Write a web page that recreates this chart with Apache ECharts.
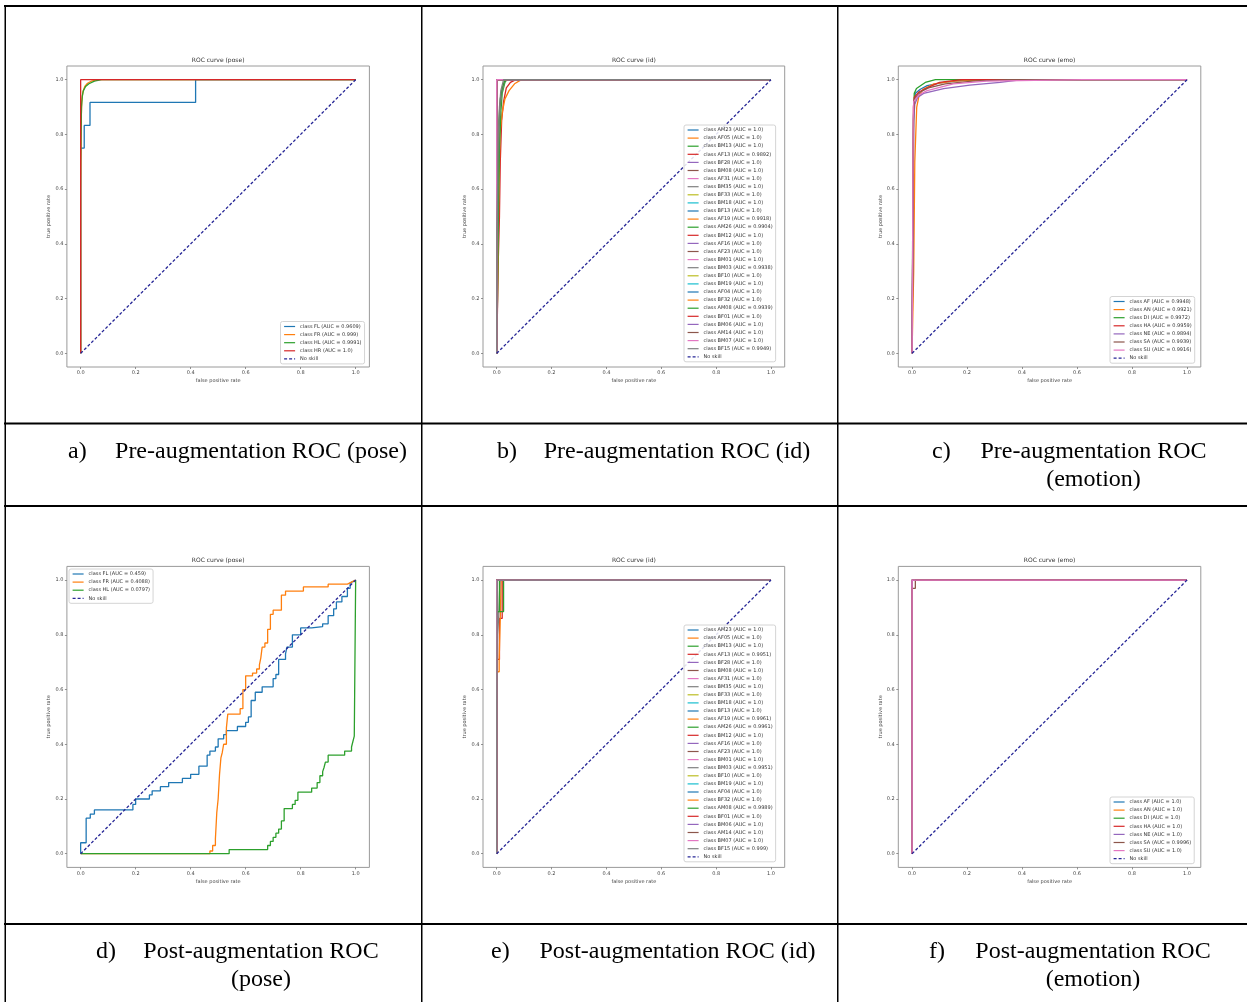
<!DOCTYPE html>
<html><head><meta charset="utf-8">
<script src="https://cdn.jsdelivr.net/npm/echarts@6/dist/echarts.min.js"></script>
<style>html,body{margin:0;padding:0;background:#fff}#c{width:1247px;height:1002px}</style>
</head><body><div id="c"></div>
<script>
// ---------- data ----------
const TICK_VALUES = [0, 0.2, 0.4, 0.6, 0.8, 1.0];
const TICK_LABELS = ['0.0', '0.2', '0.4', '0.6', '0.8', '1.0'];
const PANEL_TITLES = ['ROC curve (pose)', 'ROC curve (id)', 'ROC curve (emo)', 'ROC curve (pose)', 'ROC curve (id)', 'ROC curve (emo)'];
const X_NAME = 'false positive rate';
const Y_NAME = 'true positive rate';
const NO_SKILL_NAME = 'No skill';
const CAPTION_LABELS = ['a)', 'b)', 'c)', 'd)', 'e)', 'f)'];
const CAPTION_LINES = [
  ['Pre-augmentation ROC (pose)'],
  ['Pre-augmentation ROC (id)'],
  ['Pre-augmentation ROC', '(emotion)'],
  ['Post-augmentation ROC', '(pose)'],
  ['Post-augmentation ROC (id)'],
  ['Post-augmentation ROC', '(emotion)']
];

const NO_SKILL = [[0, 0], [1, 1]];
const PERFECT = [[0, 0], [0, 1], [1, 1]];

// (a) pre-augmentation pose
const POSE_PRE_CLASSES = ['FL', 'FR', 'HL', 'HR'];
const POSE_PRE_AUC = ['0.9609', '0.999', '0.9991', '1.0'];
const POSE_PRE_FL = [[0,0],[0,0.75],[0.013,0.75],[0.013,0.833],[0.034,0.833],[0.034,0.917],[0.418,0.917],[0.418,1],[1,1]];
const POSE_PRE_FR = [[0,0],[0,0.6],[0.002,0.85],[0.004,0.92],[0.008,0.955],[0.015,0.975],[0.025,0.987],[0.04,0.995],[0.06,1],[1,1]];
const POSE_PRE_HL = [[0,0],[0,0.7],[0.003,0.9],[0.006,0.94],[0.01,0.96],[0.018,0.975],[0.03,0.985],[0.05,0.995],[0.076,1],[1,1]];
const POSE_PRE_HR = PERFECT;

// (b)/(e) identity
const ID_CLASSES = ['AM23','AF05','BM13','AF13','BF28','BM08','AF31','BM35','BF33','BM18','BF13','AF19','AM26','BM12','AF16','AF23','BM01','BM03','BF10','BM19','AF04','BF32','AM08','BF01','BM06','AM14','BM07','BF15'];
const ID_PRE_AUC  = ['1.0','1.0','1.0','0.9892','1.0','1.0','1.0','1.0','1.0','1.0','1.0','0.9918','0.9904','1.0','1.0','1.0','1.0','0.9938','1.0','1.0','1.0','1.0','0.9939','1.0','1.0','1.0','1.0','0.9949'];
const ID_POST_AUC = ['1.0','1.0','1.0','0.9951','1.0','1.0','1.0','1.0','1.0','1.0','1.0','0.9961','0.9961','1.0','1.0','1.0','1.0','0.9951','1.0','1.0','1.0','1.0','0.9989','1.0','1.0','1.0','1.0','0.999'];
const ID_PRE_AF13 = [[0,0],[0.006,0.35],[0.01,0.5],[0.013,0.7],[0.018,0.85],[0.025,0.92],[0.035,0.97],[0.05,0.99],[0.07,1],[1,1]];
const ID_PRE_AF19 = [[0,0],[0.004,0.3],[0.008,0.6],[0.012,0.8],[0.02,0.88],[0.03,0.93],[0.045,0.96],[0.065,0.985],[0.09,1],[1,1]];
const ID_PRE_AM26 = [[0,0],[0.003,0.2],[0.006,0.5],[0.01,0.75],[0.015,0.88],[0.02,0.95],[0.03,0.99],[0.037,1],[1,1]];
const ID_PRE_BM03 = [[0,0],[0.002,0.3],[0.005,0.6],[0.008,0.8],[0.012,0.9],[0.018,0.95],[0.03,1],[1,1]];
const ID_PRE_AM08 = [[0,0],[0.002,0.3],[0.004,0.6],[0.008,0.85],[0.013,0.93],[0.02,0.97],[0.03,1],[1,1]];
const ID_PRE_BF15 = [[0,0],[0,0.45],[0.003,0.6],[0.006,0.8],[0.01,0.9],[0.015,0.96],[0.025,1],[1,1]];
const ID_POST_AF13 = [[0,0],[0,0.71],[0.01,0.71],[0.01,0.86],[0.02,0.86],[0.02,1],[1,1]];
const ID_POST_AF19 = [[0,0],[0,0.665],[0.009,0.665],[0.009,0.71],[0.013,0.71],[0.013,0.86],[0.016,0.86],[0.016,1],[1,1]];
const ID_POST_AM26 = [[0,0],[0,0.86],[0.005,0.86],[0.005,0.885],[0.025,0.885],[0.025,1],[1,1]];
const ID_POST_BM03 = [[0,0],[0,0.28],[0.003,0.28],[0.003,0.8],[0.007,0.8],[0.007,0.86],[0.012,0.86],[0.012,1],[1,1]];
const ID_POST_AM08 = [[0,0],[0,0.885],[0.01,0.885],[0.01,1],[1,1]];
const ID_POST_BF15 = [[0,0],[0,0.55],[0.002,0.55],[0.002,1],[1,1]];

// (c)/(f) emotion
const EMO_CLASSES = ['AF', 'AN', 'DI', 'HA', 'NE', 'SA', 'SU'];
const EMO_PRE_AUC = ['0.9948', '0.9921', '0.9972', '0.9959', '0.9894', '0.9939', '0.9916'];
const EMO_POST_AUC = ['1.0', '1.0', '1.0', '1.0', '1.0', '0.9996', '1.0'];
const EMO_PRE_AF = [[0,0],[0.002,0.3],[0.004,0.75],[0.006,0.9],[0.012,0.95],[0.03,0.965],[0.055,0.978],[0.115,0.99],[0.21,1],[1,1]];
const EMO_PRE_AN = [[0,0],[0.006,0.3],[0.01,0.7],[0.017,0.9],[0.025,0.94],[0.04,0.965],[0.08,0.985],[0.15,0.995],[0.3,1],[1,1]];
const EMO_PRE_DI = [[0,0],[0.002,0.4],[0.005,0.85],[0.008,0.95],[0.016,0.968],[0.048,0.99],[0.085,1],[1,1]];
const EMO_PRE_HA = [[0,0],[0.003,0.5],[0.005,0.9],[0.008,0.935],[0.025,0.955],[0.055,0.97],[0.1,0.99],[0.18,1],[1,1]];
const EMO_PRE_NE = [[0,0],[0.003,0.45],[0.006,0.85],[0.01,0.91],[0.02,0.935],[0.042,0.95],[0.115,0.967],[0.21,0.98],[0.32,0.99],[0.4,1],[1,1]];
const EMO_PRE_SA = [[0,0],[0.004,0.5],[0.006,0.88],[0.01,0.93],[0.03,0.955],[0.06,0.97],[0.12,0.985],[0.22,0.995],[0.35,1],[1,1]];
const EMO_PRE_SU = [[0,0],[0.002,0.35],[0.004,0.85],[0.006,0.92],[0.025,0.945],[0.055,0.96],[0.15,0.985],[0.27,0.995],[0.62,1],[1,1]];
const EMO_POST_SA = [[0,0],[0,0.97],[0.012,0.97],[0.012,1],[1,1]];

// (d) post-augmentation pose
const POSE_POST_CLASSES = ['FL', 'FR', 'HL'];
const POSE_POST_AUC = ['0.459', '0.4088', '0.0797'];
const POSE_POST_FL = [[0,0],[0,0.04],[0.02,0.04],[0.02,0.13],[0.035,0.13],[0.035,0.145],[0.05,0.145],[0.05,0.16],[0.19,0.16],[0.19,0.18],[0.2,0.18],[0.2,0.2],[0.25,0.2],[0.25,0.215],[0.26,0.215],[0.26,0.23],[0.29,0.23],[0.29,0.245],[0.32,0.245],[0.32,0.26],[0.37,0.26],[0.37,0.275],[0.4,0.275],[0.4,0.29],[0.43,0.29],[0.43,0.32],[0.46,0.32],[0.46,0.36],[0.47,0.36],[0.47,0.375],[0.49,0.375],[0.49,0.39],[0.5,0.39],[0.5,0.42],[0.52,0.42],[0.52,0.435],[0.53,0.435],[0.53,0.45],[0.57,0.45],[0.57,0.465],[0.6,0.465],[0.6,0.48],[0.61,0.48],[0.61,0.5],[0.62,0.5],[0.62,0.56],[0.635,0.56],[0.635,0.59],[0.66,0.59],[0.66,0.61],[0.7,0.61],[0.7,0.64],[0.71,0.64],[0.71,0.655],[0.72,0.655],[0.72,0.71],[0.745,0.71],[0.745,0.73],[0.75,0.73],[0.75,0.755],[0.77,0.755],[0.77,0.8],[0.8,0.8],[0.8,0.825],[0.84,0.825],[0.84,0.83],[0.88,0.83],[0.88,0.84],[0.9,0.84],[0.9,0.87],[0.92,0.87],[0.92,0.895],[0.93,0.895],[0.93,0.92],[0.95,0.92],[0.95,0.94],[0.97,0.94],[0.97,0.97],[0.98,0.97],[0.98,0.99],[1,1]];
const POSE_POST_FR = [[0,0],[0.47,0],[0.47,0.01],[0.48,0.01],[0.48,0.03],[0.49,0.03],[0.49,0.055],[0.495,0.055],[0.495,0.15],[0.5,0.15],[0.5,0.2],[0.505,0.2],[0.505,0.29],[0.51,0.29],[0.51,0.35],[0.515,0.35],[0.515,0.37],[0.52,0.37],[0.52,0.4],[0.53,0.4],[0.53,0.46],[0.535,0.46],[0.535,0.51],[0.58,0.51],[0.58,0.53],[0.59,0.53],[0.59,0.6],[0.6,0.6],[0.6,0.65],[0.625,0.65],[0.625,0.66],[0.64,0.66],[0.64,0.675],[0.65,0.675],[0.65,0.69],[0.655,0.69],[0.655,0.715],[0.66,0.715],[0.66,0.755],[0.67,0.755],[0.67,0.77],[0.68,0.77],[0.68,0.82],[0.69,0.82],[0.69,0.875],[0.7,0.875],[0.7,0.89],[0.73,0.89],[0.73,0.945],[0.745,0.945],[0.745,0.96],[0.81,0.96],[0.81,0.975],[0.9,0.975],[0.9,0.985],[0.97,0.985],[0.97,0.99],[1,1]];
const POSE_POST_HL = [[0,0],[0.54,0],[0.54,0.015],[0.68,0.015],[0.68,0.03],[0.69,0.03],[0.69,0.045],[0.7,0.045],[0.7,0.06],[0.71,0.06],[0.71,0.075],[0.72,0.075],[0.72,0.09],[0.73,0.09],[0.73,0.12],[0.74,0.12],[0.74,0.165],[0.77,0.165],[0.77,0.18],[0.78,0.18],[0.78,0.195],[0.79,0.195],[0.79,0.225],[0.84,0.225],[0.84,0.24],[0.86,0.24],[0.86,0.26],[0.87,0.26],[0.87,0.285],[0.88,0.285],[0.88,0.3],[0.885,0.3],[0.885,0.315],[0.89,0.315],[0.89,0.335],[0.9,0.335],[0.9,0.36],[0.96,0.36],[0.96,0.375],[0.985,0.375],[0.985,0.39],[0.99,0.39],[0.99,0.41],[0.995,0.41],[0.995,0.43],[1,0.43],[1,1]];

// ---------- assembling ----------
const TAB10 = ['#1f77b4','#ff7f0e','#2ca02c','#d62728','#9467bd','#8c564b','#e377c2','#7f7f7f','#bcbd22','#17becf'];
const NAVY = '#262696';
const FONT = 'DejaVu Sans';

const ID_PRE_LOOKUP = {AF13: ID_PRE_AF13, AF19: ID_PRE_AF19, AM26: ID_PRE_AM26, BM03: ID_PRE_BM03, AM08: ID_PRE_AM08, BF15: ID_PRE_BF15};
const ID_POST_LOOKUP = {AF13: ID_POST_AF13, AF19: ID_POST_AF19, AM26: ID_POST_AM26, BM03: ID_POST_BM03, AM08: ID_POST_AM08, BF15: ID_POST_BF15};

const panels = [
  {classes: POSE_PRE_CLASSES, auc: POSE_PRE_AUC, curves: [POSE_PRE_FL, POSE_PRE_FR, POSE_PRE_HL, POSE_PRE_HR]},
  {classes: ID_CLASSES, auc: ID_PRE_AUC, curves: ID_CLASSES.map(c => ID_PRE_LOOKUP[c] || PERFECT)},
  {classes: EMO_CLASSES, auc: EMO_PRE_AUC, curves: [EMO_PRE_AF, EMO_PRE_AN, EMO_PRE_DI, EMO_PRE_HA, EMO_PRE_NE, EMO_PRE_SA, EMO_PRE_SU]},
  {classes: POSE_POST_CLASSES, auc: POSE_POST_AUC, curves: [POSE_POST_FL, POSE_POST_FR, POSE_POST_HL]},
  {classes: ID_CLASSES, auc: ID_POST_AUC, curves: ID_CLASSES.map(c => ID_POST_LOOKUP[c] || PERFECT)},
  {classes: EMO_CLASSES, auc: EMO_POST_AUC, curves: EMO_CLASSES.map(c => c === 'SA' ? EMO_POST_SA : PERFECT)}
];

// layout (pixels)
const COL_LEFT = [66.9, 483.0, 898.3];
const COL_WIDTH = [302.5, 301.7, 302.5];
const ROW_TOP = [66.0, 566.4];
const ROW_HEIGHT = 301;
const TITLE_TOP = [57.5, 557.5];
const LEGEND_POS = [
  {left: 280.5, top: 321.5},
  {left: 684, top: 125},
  {left: 1110, top: 296.5},
  {left: 69, top: 569},
  {left: 684, top: 625},
  {left: 1110, top: 797}
];
const CAPTION_LABEL_X = [68, 497, 932, 96, 491, 929];
const CAPTION_CENTER_X = [261, 677, 1093.5, 261, 677.5, 1093];
const CAPTION_Y = [452, 952];
const CAPTION_LINE_GAP = 27.5;

const tickFmt = v => {
  const i = TICK_VALUES.findIndex(t => Math.abs(t - v) < 1e-9);
  return i >= 0 ? TICK_LABELS[i] : v.toFixed(1);
};

const grid = [], xAxis = [], yAxis = [], series = [], title = [], legend = [];
panels.forEach((p, i) => {
  const r = Math.floor(i / 3), c = i % 3;
  grid.push({left: COL_LEFT[c], top: ROW_TOP[r], width: COL_WIDTH[c], height: ROW_HEIGHT,
    show: true, borderColor: '#9a9a9a', borderWidth: 1, containLabel: false});
  const axisCommon = {
    gridIndex: i, type: 'value', min: -0.05, max: 1.05,
    splitLine: {show: false},
    axisLine: {show: false, onZero: false},
    axisTick: {show: true, length: 2, lineStyle: {color: '#777', width: 0.8}, customValues: TICK_VALUES},
    axisLabel: {customValues: TICK_VALUES, formatter: tickFmt, fontSize: 5, color: '#444', fontFamily: FONT},
    nameLocation: 'middle',
    nameTextStyle: {fontSize: 5, color: '#444', fontFamily: FONT}
  };
  xAxis.push(Object.assign({}, axisCommon, {position: 'bottom', name: X_NAME, nameGap: 11.5,
    axisLabel: Object.assign({}, axisCommon.axisLabel, {margin: 3.5})}));
  yAxis.push(Object.assign({}, axisCommon, {position: 'left', name: Y_NAME, nameGap: 14,
    axisLabel: Object.assign({}, axisCommon.axisLabel, {margin: 3.5})}));
  title.push({text: PANEL_TITLES[i], left: COL_LEFT[c] + COL_WIDTH[c] / 2, top: TITLE_TOP[r],
    textAlign: 'center', padding: 0,
    textStyle: {fontSize: 6, fontWeight: 'normal', color: '#333', fontFamily: FONT}});
  const names = [];
  p.classes.forEach((cls, k) => {
    const name = 'class ' + cls + ' (AUC = ' + p.auc[k] + ')';
    names.push(name);
    series.push({type: 'line', name, xAxisIndex: i, yAxisIndex: i, data: p.curves[k],
      symbol: 'none', showSymbol: false, silent: true, animation: false,
      lineStyle: {width: 1.3, color: TAB10[k % 10]}, itemStyle: {color: TAB10[k % 10]}});
  });
  series.push({type: 'line', name: NO_SKILL_NAME, xAxisIndex: i, yAxisIndex: i, data: NO_SKILL,
    symbol: 'none', showSymbol: false, silent: true, animation: false,
    lineStyle: {width: 1.3, color: NAVY, type: [3, 2]}, itemStyle: {color: NAVY}});
  names.push(NO_SKILL_NAME);
  legend.push({data: names, orient: 'vertical', left: LEGEND_POS[i].left, top: LEGEND_POS[i].top,
    padding: [2, 3, 2, 3], itemWidth: 11, itemHeight: 6, itemGap: 2.1, selectedMode: false,
    backgroundColor: 'rgba(255,255,255,0.85)', borderColor: '#d4d4d4', borderWidth: 1, borderRadius: 2,
    itemStyle: {opacity: 0},
    lineStyle: {width: 1.2},
    textStyle: {fontSize: 5, lineHeight: 6, color: '#333', fontFamily: FONT}});
});

// table frame and captions
const graphic = [];
const hLines = [[5, 2], [422.5, 2], [505, 2], [923, 2]];
hLines.forEach(([y, h]) => graphic.push({type: 'rect', shape: {x: 4, y, width: 1243, height: h}, style: {fill: '#000'}, silent: true}));
[4.5, 421, 837].forEach(x => graphic.push({type: 'rect', shape: {x, y: 5, width: 1.5, height: 997}, style: {fill: '#000'}, silent: true}));
CAPTION_LABELS.forEach((lab, i) => {
  const r = Math.floor(i / 3);
  graphic.push({type: 'text', x: CAPTION_LABEL_X[i], y: CAPTION_Y[r], silent: true,
    style: {text: lab, textAlign: 'left', verticalAlign: 'middle', fontSize: 24, fontFamily: 'Liberation Serif', fill: '#000'}});
  CAPTION_LINES[i].forEach((line, j) => {
    graphic.push({type: 'text', x: CAPTION_CENTER_X[i], y: CAPTION_Y[r] + j * CAPTION_LINE_GAP, silent: true,
      style: {text: line, textAlign: 'center', verticalAlign: 'middle', fontSize: 24, fontFamily: 'Liberation Serif', fill: '#000'}});
  });
});

const chart = echarts.init(document.getElementById('c'), null, {renderer: 'canvas', width: 1247, height: 1002});
chart.setOption({
  backgroundColor: '#fff',
  animation: false,
  title, legend, grid, xAxis, yAxis, series, graphic
});
</script>
</body></html>
